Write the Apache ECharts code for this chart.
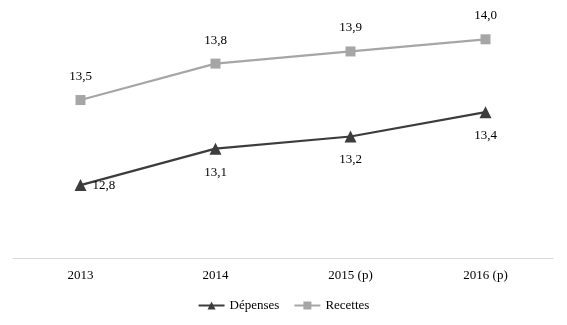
<!DOCTYPE html>
<html><head><meta charset="utf-8">
<script src="https://cdn.jsdelivr.net/npm/echarts@6/dist/echarts.min.js"></script>
<style>html,body{margin:0;padding:0;background:#fff}#c{width:567px;height:325px}</style>
</head><body><div id="c"></div>
<script>
const categories = ['2013', '2014', '2015 (p)', '2016 (p)'];
const depenses = [12.8, 13.1, 13.2, 13.4];
const recettes = [13.5, 13.8, 13.9, 14.0];
const font = 'Liberation Serif';
const fmt = p => p.value.toFixed(1).replace('.', ',');
const chart = echarts.init(document.getElementById('c'));
chart.setOption({
  animation: false,
  textStyle: {fontFamily: font},
  grid: {left: 13, right: 14, top: 15, bottom: 67},
  legend: {
    bottom: 8, left: 'center', itemGap: 14, itemWidth: 26, itemHeight: 10,
    textStyle: {fontFamily: font, fontSize: 13, color: '#000'},
    data: ['Dépenses', 'Recettes']
  },
  xAxis: {
    type: 'category', data: categories, boundaryGap: true,
    axisLine: {lineStyle: {color: '#d9d9d9', width: 1}},
    axisTick: {show: false},
    axisLabel: {fontFamily: font, fontSize: 13, color: '#000', margin: 11}
  },
  yAxis: {
    type: 'value', min: 12.2, max: 14.2, show: false,
    splitLine: {show: false}
  },
  series: [
    {
      name: 'Dépenses', type: 'line',
      data: depenses.map((v, i) => i === 0 ? {value: v, label: {position: 'right', distance: 6}} : v),
      symbol: 'triangle', symbolSize: 12,
      itemStyle: {color: '#3c3c3c'}, lineStyle: {color: '#3c3c3c', width: 2.2},
      label: {show: true, position: 'bottom', distance: 11, formatter: fmt, fontFamily: font, fontSize: 13, color: '#000'}
    },
    {
      name: 'Recettes', type: 'line', data: recettes,
      symbol: 'rect', symbolSize: 10,
      itemStyle: {color: '#A6A6A6'}, lineStyle: {color: '#A6A6A6', width: 2.2},
      label: {show: true, position: 'top', distance: 12, formatter: fmt, fontFamily: font, fontSize: 13, color: '#000'}
    }
  ]
});
</script></body></html>
